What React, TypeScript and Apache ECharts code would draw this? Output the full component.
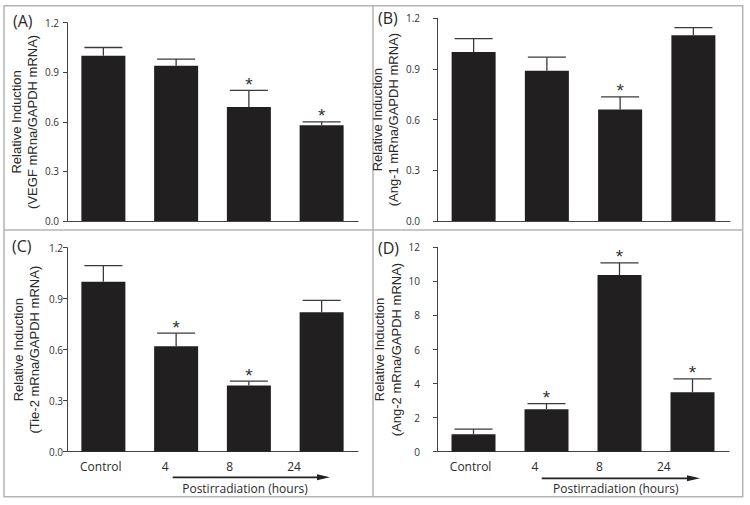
import React, { useEffect, useRef } from "react";
import * as echarts from "echarts";

// ---- data ----
const categories = ["Control", "4", "8", "24"];

const vegfMean = [1.0, 0.94, 0.69, 0.58];
const vegfSem = [0.05, 0.04, 0.1, 0.02];
const vegfSig = [false, false, true, true];

const ang1Mean = [1.0, 0.89, 0.66, 1.1];
const ang1Sem = [0.08, 0.08, 0.075, 0.045];
const ang1Sig = [false, false, true, false];

const tie2Mean = [1.0, 0.62, 0.39, 0.82];
const tie2Sem = [0.095, 0.077, 0.025, 0.07];
const tie2Sig = [false, true, true, false];

const ang2Mean = [1.02, 2.49, 10.37, 3.49];
const ang2Sem = [0.31, 0.33, 0.71, 0.78];
const ang2Sig = [false, true, true, true];

const panelLetters = ["(A)", "(B)", "(C)", "(D)"];
const yNames = [
  "Relative Induction\n(VEGF mRna/GAPDH mRNA)",
  "Relative Induction\n(Ang-1 mRna/GAPDH mRNA)",
  "Relative Induction\n(Tie-2 mRna/GAPDH mRNA)",
  "Relative Induction\n(Ang-2 mRna/GAPDH mRNA)",
];
const xTitle = "Postirradiation (hours)";

// ---- layout / style ----
const BAR = "#221f20";
const AXIS = "#444";
const TXT = "#2a2a2a";
const TICK_FONT = "Open Sans";
const NAME_FONT = "Liberation Sans";

const panels = [
  { mean: vegfMean, sem: vegfSem, sig: vegfSig, max: 1.2, interval: 0.3, dec: 1,
    grid: { left: 67, top: 22.7, width: 291, height: 198.3 }, labelMargin: 8, nameGap: 24 },
  { mean: ang1Mean, sem: ang1Sem, sig: ang1Sig, max: 1.2, interval: 0.3, dec: 1,
    grid: { left: 437, top: 18.3, width: 293, height: 202.7 }, labelMargin: 17, nameGap: 21 },
  { mean: tie2Mean, sem: tie2Sem, sig: tie2Sig, max: 1.2, interval: 0.3, dec: 1,
    grid: { left: 67, top: 247.7, width: 291, height: 204 }, labelMargin: 4, nameGap: 24 },
  { mean: ang2Mean, sem: ang2Sem, sig: ang2Sig, max: 12, interval: 2, dec: 0,
    grid: { left: 437, top: 247.3, width: 292, height: 204.4 }, labelMargin: 17, nameGap: 21 },
];

const letterPos = [
  [13, 21],
  [378, 18],
  [12, 246],
  [378, 248],
];

// label axes (category tick labels under bottom panels)
const labelGrids = [
  { left: 68.6, top: 247.7, width: 257.6, height: 204 },
  { left: 438.4, top: 247.3, width: 257.6, height: 204.4 },
];

function errRender(params: any, api: any) {
  const i = api.value(0);
  const m = api.value(1);
  const u = api.value(2);
  const s = api.value(3);
  const p0 = api.coord([i, m]);
  const p1 = api.coord([i, u]);
  const st = { stroke: "#3a3a3a", lineWidth: 1.3 };
  const children: any[] = [
    { type: "line", shape: { x1: p0[0], y1: p0[1], x2: p1[0], y2: p1[1] }, style: st },
    { type: "line", shape: { x1: p1[0] - 19, y1: p1[1], x2: p1[0] + 19, y2: p1[1] }, style: st },
  ];
  if (s) {
    children.push({
      type: "text",
      x: p1[0],
      y: p1[1] - 6,
      style: {
        text: "*",
        fill: "#333",
        font: `19px "${NAME_FONT}"`,
        align: "center",
        verticalAlign: "middle",
      },
    });
  }
  return { type: "group", children };
}

export default function App() {
  const ref = useRef<HTMLDivElement>(null);

  useEffect(() => {
    if (!ref.current) return;
    const chart = echarts.init(ref.current, null, { renderer: "svg" });

    const grids: any[] = [];
    const xAxes: any[] = [];
    const yAxes: any[] = [];
    const series: any[] = [];

    panels.forEach((p, k) => {
      grids.push({ ...p.grid, containLabel: false });
      xAxes.push({
        type: "category",
        gridIndex: k,
        data: categories,
        axisLine: { show: true, lineStyle: { color: AXIS, width: 1 } },
        axisTick: { show: false },
        axisLabel: { show: false },
      });
      yAxes.push({
        type: "value",
        gridIndex: k,
        min: 0,
        max: p.max,
        interval: p.interval,
        name: yNames[k],
        nameLocation: "middle",
        nameGap: p.nameGap,
        nameTextStyle: {
          fontFamily: NAME_FONT,
          fontSize: 13,
          lineHeight: 16.5,
          color: TXT,
        },
        axisLine: { show: true, lineStyle: { color: AXIS, width: 1 } },
        axisTick: { show: true, length: 4, inside: false, lineStyle: { color: AXIS } },
        splitLine: { show: false },
        axisLabel: {
          margin: p.labelMargin,
          fontFamily: TICK_FONT,
          fontSize: 10,
          color: "#333",
          formatter: (v: number) => v.toFixed(p.dec),
        },
      });
      series.push({
        type: "bar",
        xAxisIndex: k,
        yAxisIndex: k,
        data: p.mean,
        barWidth: 44,
        itemStyle: { color: BAR },
        silent: true,
      });
      series.push({
        type: "custom",
        xAxisIndex: k,
        yAxisIndex: k,
        renderItem: errRender,
        encode: { x: 0, y: [1, 2] },
        data: p.mean.map((m, i) => [i, m, m + p.sem[i], p.sig[i] ? 1 : 0]),
        z: 3,
        silent: true,
      });
    });

    labelGrids.forEach((g) => {
      const gi = grids.length;
      grids.push({ ...g });
      xAxes.push({
        type: "category",
        gridIndex: gi,
        data: categories,
        axisLine: { show: false },
        axisTick: { show: false },
        axisLabel: {
          margin: 9,
          fontFamily: TICK_FONT,
          fontSize: 12,
          color: TXT,
        },
      });
      yAxes.push({
        type: "value",
        gridIndex: gi,
        show: false,
        min: 0,
        max: 1,
      });
    });

    const graphic: any[] = [];
    const frame = { stroke: "#b4b4b4", lineWidth: 1.5, fill: "none" };
    graphic.push({ type: "rect", shape: { x: 4, y: 5.7, width: 738.7, height: 491 }, style: frame, silent: true });
    graphic.push({ type: "line", shape: { x1: 373, y1: 5.7, x2: 373, y2: 496.7 }, style: frame, silent: true });
    graphic.push({ type: "line", shape: { x1: 4, y1: 230, x2: 742.7, y2: 230 }, style: frame, silent: true });

    panelLetters.forEach((t, k) => {
      graphic.push({
        type: "text",
        x: letterPos[k][0],
        y: letterPos[k][1],
        style: {
          text: t,
          font: `16px "${TICK_FONT}"`,
          fill: TXT,
          align: "left",
          verticalAlign: "middle",
        },
      });
    });

    const arrows = [
      { x1: 172.7, x2: 330, y: 477.3, tx: 245, ty: 488.3 },
      { x1: 541.7, x2: 700, y: 478.3, tx: 615.8, ty: 488.3 },
    ];
    arrows.forEach((a) => {
      graphic.push({
        type: "line",
        shape: { x1: a.x1, y1: a.y, x2: a.x2 - 10, y2: a.y },
        style: { stroke: "#222", lineWidth: 1.8 },
      });
      graphic.push({
        type: "polygon",
        shape: { points: [[a.x2 - 13, a.y - 3], [a.x2, a.y], [a.x2 - 13, a.y + 3]] },
        style: { fill: "#222" },
      });
      graphic.push({
        type: "text",
        x: a.tx,
        y: a.ty,
        style: {
          text: xTitle,
          font: `12px "${TICK_FONT}"`,
          fill: TXT,
          align: "center",
          verticalAlign: "middle",
        },
      });
    });

    chart.setOption({
      animation: false,
      backgroundColor: "#ffffff",
      grid: grids,
      xAxis: xAxes,
      yAxis: yAxes,
      series,
      graphic,
    });

    return () => chart.dispose();
  }, []);

  return (
    <div
      ref={ref}
      style={{ position: "absolute", left: 0, top: 0, width: 750, height: 505 }}
    />
  );
}
